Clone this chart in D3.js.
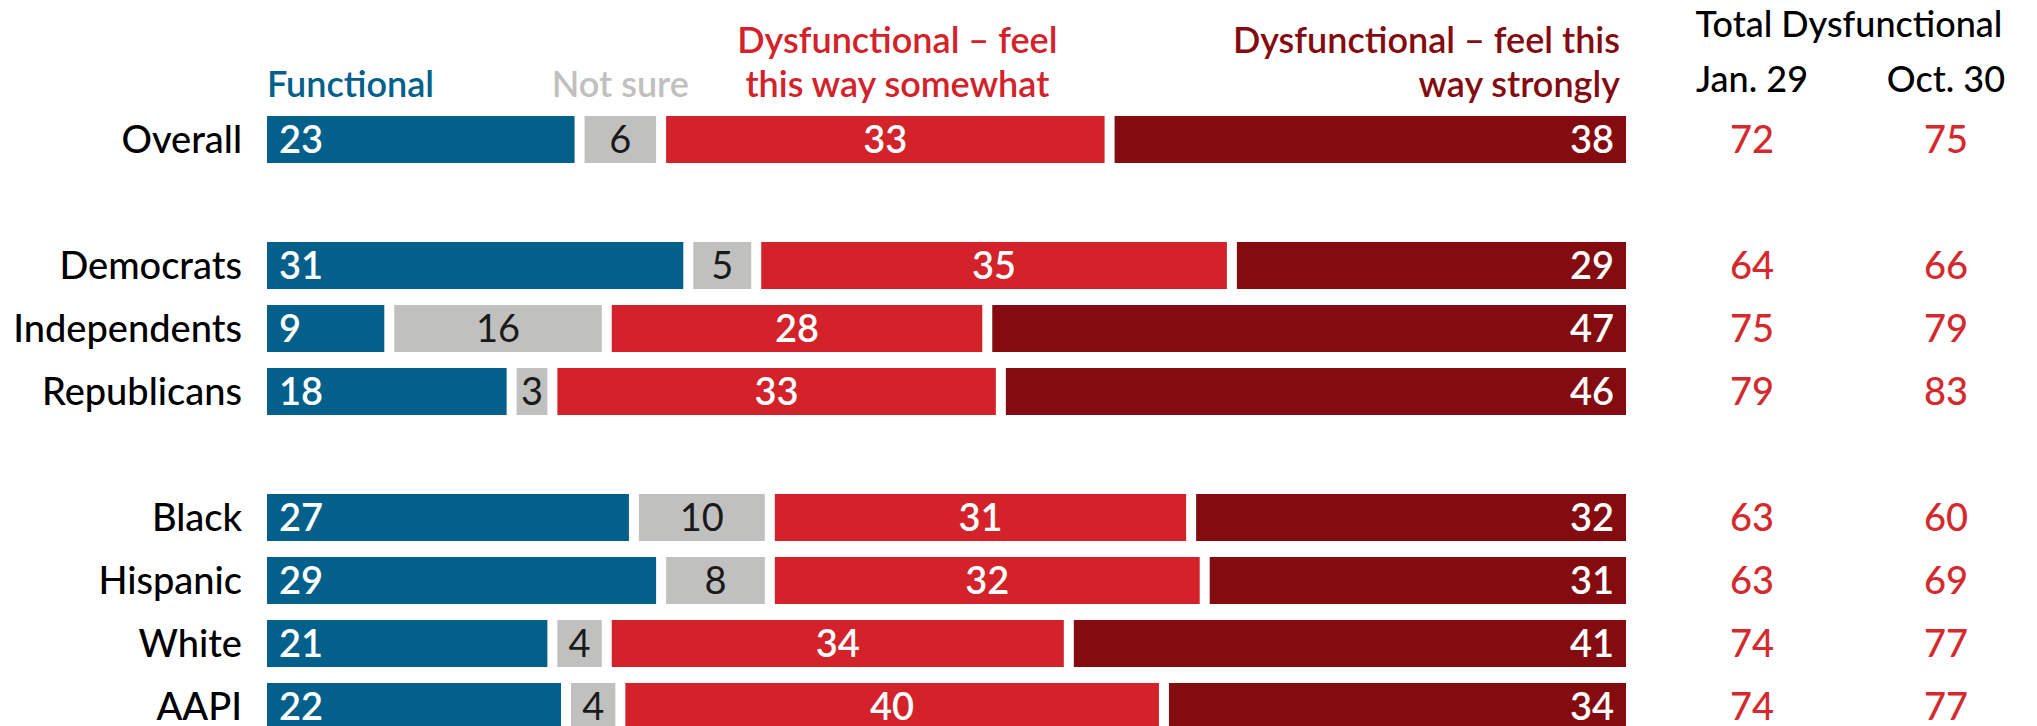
<!DOCTYPE html>
<html>
<head>
<meta charset="utf-8">
<script src="https://cdn.jsdelivr.net/npm/d3@7"></script>
<style>
    body { margin: 0; background: #fff; }
    text { font-family: Lato, "Noto Sans", sans-serif; }
</style>
</head>
<body>
<div id="chart"></div>
<script>
// rows, with two empty slots used as spacing between the groups
const groups = ["Overall", "Democrats", "Independents", "Republicans", "Black", "Hispanic", "White", "AAPI"];
const slots = ["Overall", "gap1", "Democrats", "Independents", "Republicans", "gap2", "Black", "Hispanic", "White", "AAPI"];

const functional = [23, 31, 9, 18, 27, 29, 21, 22];
const notSure = [6, 5, 16, 3, 10, 8, 4, 4];
const somewhat = [33, 35, 28, 33, 31, 32, 34, 40];
const strongly = [38, 29, 47, 46, 32, 31, 41, 34];

const totalJan = [72, 64, 75, 79, 63, 63, 74, 74];
const totalOct = [75, 66, 79, 83, 60, 69, 77, 77];
const totalCols = ["Jan. 29", "Oct. 30"];

const seriesNames = ["Functional", "Not sure", "Dysfunctional – feel this way somewhat", "Dysfunctional – feel this way strongly"];

/**
 * Constructor for the chart
 */
function DysfunctionChart(){
    let self = this;
    self.init();
};

DysfunctionChart.prototype.init = function(){
    let self = this;
    self.width = 2037;
    self.height = 726;

    self.svg = d3.select("#chart").append("svg")
        .attr("width", self.width)
        .attr("height", self.height);

    self.colors = ["#02608b", "#c0c0bf", "#d3222a", "#840b0f"];
    self.textColors = ["#fff", "#1a1a1a", "#fff", "#fff"];

    self.x = d3.scaleLinear().domain([0, 100]).range([267, 1626]);
    self.y = d3.scaleBand().domain(slots).range([108, 738])
        .paddingInner(0.254).paddingOuter(0.127);
    self.totalX = d3.scaleOrdinal().domain(totalCols).range([1752, 1946]);

    // stack the four series per row
    self.rows = groups.map(function(g, i){
        let vals = [functional[i], notSure[i], somewhat[i], strongly[i]];
        let start = 0;
        let segs = vals.map(function(v, k){
            let s = {group: g, key: k, value: v, x0: start, x1: start + v};
            start += v;
            return s;
        });
        return {group: g, segs: segs, jan: totalJan[i], oct: totalOct[i]};
    });

    self.draw();
};

DysfunctionChart.prototype.draw = function(){
    let self = this;
    const gap = 5;
    const bw = self.y.bandwidth();

    // left edge of a segment (inset unless it is the first one)
    const segLeft = function(d) { return self.x(d.x0) + (d.key == 0 ? 0 : gap); };
    const segRight = function(d) { return self.x(d.x1) - (d.key == 3 ? 0 : gap); };

    let row = self.svg.selectAll(".row").data(self.rows)
        .enter().append("g")
        .attr("class", "row")
        .attr("transform", function(d) { return "translate(0," + self.y(d.group) + ")"; });

    row.append("text")
        .attr("x", 242)
        .attr("y", bw / 2)
        .attr("dy", "0.36em")
        .attr("text-anchor", "end")
        .style("font-size", "38px")
        .style("font-weight", 500)
        .attr("fill", "#000")
        .text(function(d) { return d.group; });

    row.selectAll("rect").data(function(d) { return d.segs; })
        .enter().append("rect")
        .attr("x", segLeft)
        .attr("width", function(d) { return segRight(d) - segLeft(d); })
        .attr("y", 0)
        .attr("height", bw)
        .attr("fill", function(d) { return self.colors[d.key]; });

    row.selectAll(".val").data(function(d) { return d.segs; })
        .enter().append("text")
        .attr("class", "val")
        .attr("x", function(d) {
            if (d.key == 0) return segLeft(d) + 12;
            if (d.key == 3) return segRight(d) - 12;
            return (segLeft(d) + segRight(d)) / 2;
        })
        .attr("y", bw / 2)
        .attr("dy", "0.36em")
        .attr("text-anchor", function(d) {
            if (d.key == 0) return "start";
            if (d.key == 3) return "end";
            return "middle";
        })
        .style("font-size", "38px")
        .style("font-weight", function(d) { return d.key == 1 ? 400 : 600; })
        .attr("fill", function(d) { return self.textColors[d.key]; })
        .text(function(d) { return d.value; });

    // total dysfunctional columns
    row.append("text")
        .attr("x", self.totalX(totalCols[0]))
        .attr("y", bw / 2)
        .attr("dy", "0.36em")
        .attr("text-anchor", "middle")
        .style("font-size", "38px")
        .style("font-weight", 500)
        .attr("fill", "#d42a2e")
        .text(function(d) { return d.jan; });
    row.append("text")
        .attr("x", self.totalX(totalCols[1]))
        .attr("y", bw / 2)
        .attr("dy", "0.36em")
        .attr("text-anchor", "middle")
        .style("font-size", "38px")
        .style("font-weight", 500)
        .attr("fill", "#d42a2e")
        .text(function(d) { return d.oct; });

    // legend labels sit above the Overall bar
    let overall = self.rows[0].segs;
    let head = self.svg.append("g").attr("class", "legend")
        .style("font-size", "36px")
        .style("font-weight", 600);

    head.append("text")
        .attr("x", segLeft(overall[0]))
        .attr("y", 97)
        .attr("fill", self.colors[0])
        .text(seriesNames[0]);

    head.append("text")
        .attr("x", (segLeft(overall[1]) + segRight(overall[1])) / 2)
        .attr("y", 97)
        .attr("text-anchor", "middle")
        .attr("fill", self.colors[1])
        .text(seriesNames[1]);

    let sw = head.append("text")
        .attr("text-anchor", "middle")
        .attr("fill", self.colors[2]);
    let cx = (segLeft(overall[2]) + segRight(overall[2])) / 2 + 12;
    sw.append("tspan").attr("x", cx).attr("y", 53).text("Dysfunctional – feel");
    sw.append("tspan").attr("x", cx).attr("y", 97).text("this way somewhat");

    let st = head.append("text")
        .attr("text-anchor", "end")
        .attr("fill", self.colors[3]);
    let rx = segRight(overall[3]) - 6;
    st.append("tspan").attr("x", rx).attr("y", 53).text("Dysfunctional – feel this");
    st.append("tspan").attr("x", rx).attr("y", 97).text("way strongly");

    // total header
    self.svg.append("text")
        .attr("x", (self.totalX(totalCols[0]) + self.totalX(totalCols[1])) / 2)
        .attr("y", 37)
        .attr("text-anchor", "middle")
        .style("font-size", "36px")
        .style("font-weight", 500)
        .attr("fill", "#000")
        .text("Total Dysfunctional");

    self.svg.selectAll(".colhead").data(totalCols)
        .enter().append("text")
        .attr("class", "colhead")
        .attr("x", function(d) { return self.totalX(d); })
        .attr("y", 92)
        .attr("text-anchor", "middle")
        .style("font-size", "36px")
        .style("font-weight", 500)
        .attr("fill", "#000")
        .text(function(d) { return d; });
};

new DysfunctionChart();
</script>
</body>
</html>
